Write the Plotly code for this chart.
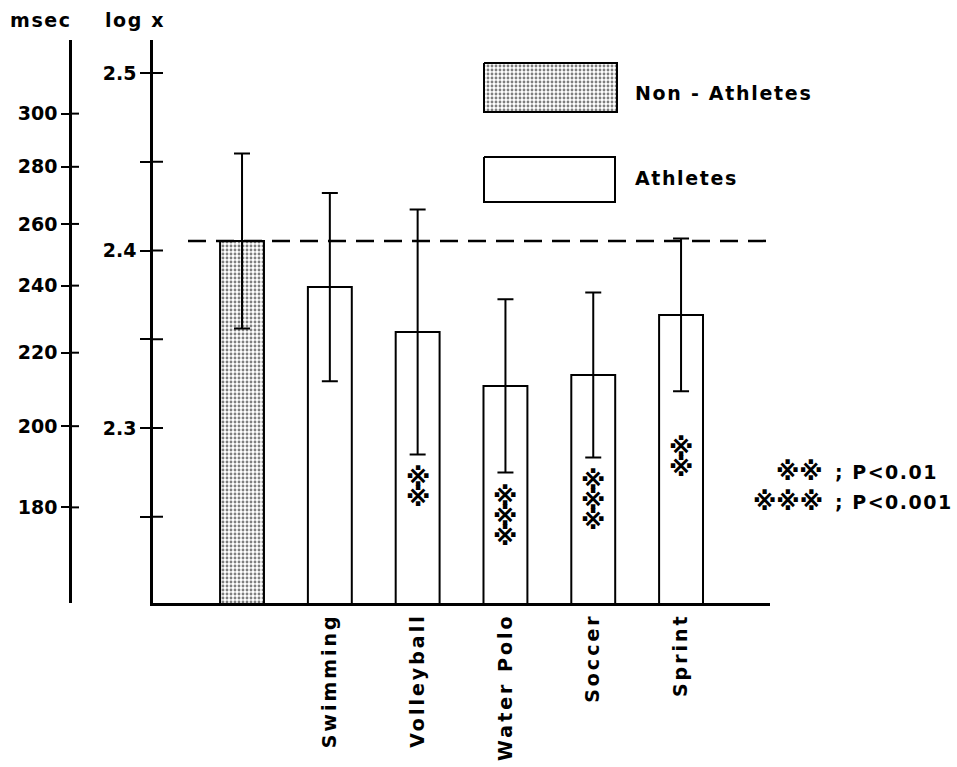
import numpy as np
import plotly.graph_objects as go

# Reaction time (log10 msec): group means and standard deviations
groups = ["Non-Athletes", "Swimming", "Volleyball", "Water Polo", "Soccer", "Sprint"]
log_mean = [2.4054, 2.3794, 2.3541, 2.3237, 2.3299, 2.3637]
log_sd = [0.0493, 0.0530, 0.0690, 0.0488, 0.0465, 0.0430]
# number of significance marks drawn inside each bar (2: P<0.01, 3: P<0.001)
sig_marks = [0, 0, 2, 3, 3, 2]

log_ticks = [2.25, 2.3, 2.35, 2.4, 2.45, 2.5]
log_tick_text = ["", "2.3", "", "2.4", "", "2.5"]
msec_ticks = [180, 200, 220, 240, 260, 280, 300]

FONT = "DejaVu Sans"
W, H = 957, 767
L, R, T, B = 70, 187, 40, 164
plot_w = W - L - R
plot_h = H - T - B
log_axis_pos = 83 / plot_w
y_range = [2.2014, 2.5186]


def spaced(s, px=1.6):
    return f"<span style='letter-spacing:{px}px'>{s}</span>"


def big(s, px=25):
    return f"<span style='font-size:{px}px'>{s}</span>"


stipple = dict(shape=".", fgcolor="black", bgcolor="white", size=4, solidity=0.4)
err_style = dict(type="data", visible=True, color="black", thickness=2, width=8)

fig = go.Figure()

# control group (stippled)
fig.add_trace(go.Bar(
    x=groups[:1], y=log_mean[:1], width=0.5,
    marker=dict(color="white", line=dict(color="black", width=2), pattern=stipple),
    error_y=dict(err_style, array=log_sd[:1]),
    showlegend=False, hoverinfo="skip",
))
# athlete groups (open bars)
fig.add_trace(go.Bar(
    x=groups[1:], y=log_mean[1:], width=0.5,
    marker=dict(color="white", line=dict(color="black", width=2)),
    error_y=dict(err_style, array=log_sd[1:]),
    showlegend=False, hoverinfo="skip",
))

# carrier trace for the msec axis
fig.add_trace(go.Scatter(x=[groups[0]], y=[np.log10(250)], yaxis="y2",
                         mode="markers", marker=dict(opacity=0),
                         showlegend=False, hoverinfo="skip"))


# legend boxes drawn in a pixel-unit overlay frame
def box(x0, y0, x1, y1, patterned):
    fig.add_trace(go.Scatter(
        x=[x0, x1, x1, x0, x0], y=[y0, y0, y1, y1, y0],
        xaxis="x3", yaxis="y3", mode="lines", fill="toself",
        fillcolor="white",
        fillpattern=stipple if patterned else None,
        line=dict(color="black", width=2),
        showlegend=False, hoverinfo="skip"))


box(484, 63, 617, 112, True)
box(484, 157, 615, 202, False)

tick_font = dict(family=FONT, size=19, color="black", weight="bold")

fig.update_layout(
    width=W, height=H,
    margin=dict(l=L, r=R, t=T, b=B, autoexpand=False),
    paper_bgcolor="white", plot_bgcolor="rgba(0,0,0,0)",
    font=dict(family=FONT, color="black", size=19),
    barmode="overlay",
    xaxis=dict(
        type="category", domain=[log_axis_pos, 1], range=[-1.014, 6.013],
        tickvals=groups[1:], ticktext=[spaced(g, 3) for g in groups[1:]],
        tickangle=-90, automargin=False,
        showline=True, linecolor="black", linewidth=2.5,
        ticks="", showgrid=False, zeroline=False,
        tickfont=dict(family=FONT, size=19, color="black", weight="bold"),
    ),
    yaxis=dict(
        range=y_range, anchor="x", automargin=False,
        tickvals=log_ticks, ticktext=log_tick_text,
        ticks="outside", ticklen=10, tickwidth=2, tickcolor="black",
        showline=True, linecolor="black", linewidth=2.5,
        showgrid=False, zeroline=False,
        tickfont=tick_font,
    ),
    yaxis2=dict(
        overlaying="y", anchor="free", position=0, side="left",
        range=y_range, automargin=False,
        tickvals=[float(np.log10(v)) for v in msec_ticks],
        ticktext=[str(v) for v in msec_ticks],
        ticks="outside", ticklen=8, tickwidth=2, tickcolor="black",
        showline=True, linecolor="black", linewidth=2.5,
        showgrid=False, zeroline=False,
        tickfont=tick_font,
    ),
    xaxis3=dict(domain=[0, 1], range=[L, W - R], anchor="y3",
                visible=False, fixedrange=True, automargin=False),
    yaxis3=dict(domain=[0, 1], range=[T + plot_h, T], anchor="x3",
                visible=False, fixedrange=True, automargin=False),
)

# inner halves of the crossing tick marks
shapes = []
for v in log_ticks:
    shapes.append(dict(type="line", xref="paper", xsizemode="pixel",
                       xanchor=log_axis_pos, x0=0, x1=10,
                       yref="y", y0=v, y1=v,
                       line=dict(color="black", width=2)))
for v in msec_ticks:
    lv = float(np.log10(v))
    shapes.append(dict(type="line", xref="paper", xsizemode="pixel",
                       xanchor=0, x0=0, x1=9,
                       yref="y", y0=lv, y1=lv,
                       line=dict(color="black", width=2)))
# reference level of the non-athlete mean
shapes.append(dict(type="line", xref="paper", x0=(188 - L) / plot_w, x1=1,
                   yref="y", y0=log_mean[0], y1=log_mean[0],
                   line=dict(color="black", width=2.5, dash="18px,10px")))
fig.update_layout(shapes=shapes)


def px_x(px):
    return (px - L) / plot_w


def px_y(py):
    return (T + plot_h - py) / plot_h


bold = dict(family=FONT, size=19, color="black", weight="bold")
mark_font = dict(family=FONT, size=24, color="black", weight="bold")
ann = [
    dict(text=spaced("msec"), x=px_x(41), y=px_y(20)),
    dict(text=spaced("log x"), x=px_x(135), y=px_y(20)),
    dict(text=spaced("Non - Athletes", 1.7), x=px_x(633), y=px_y(93), xanchor="left"),
    dict(text=spaced("Athletes"), x=px_x(633), y=px_y(178), xanchor="left"),
    dict(text="※※", x=px_x(825), y=px_y(472), xanchor="right", font=mark_font),
    dict(text=spaced("; P<0.01", 1.5), x=px_x(833), y=px_y(472), xanchor="left"),
    dict(text="※※※", x=px_x(825), y=px_y(502), xanchor="right", font=mark_font),
    dict(text=spaced("; P<0.001", 1.5), x=px_x(833), y=px_y(502), xanchor="left"),
]
annotations = []
for a in ann:
    d = dict(xref="paper", yref="paper", showarrow=False,
             xanchor="center", yanchor="middle", font=bold)
    d.update(a)
    annotations.append(d)

# significance marks stacked inside the bars (20 px line pitch, larger glyphs)
mark_centre = {2: 2.2662, 3: 2.2504, 4: 2.2594, 5: 2.2831}
for i, n in enumerate(sig_marks):
    if n == 0:
        continue
    annotations.append(dict(
        x=groups[i], y=mark_centre[i], xref="x", yref="y",
        text="<br>".join([big("※", 25)] * n), showarrow=False,
        xanchor="center", yanchor="middle",
        font=dict(family=FONT, size=15.4, color="black", weight="bold"),
    ))
fig.update_layout(annotations=annotations)

fig.write_html("out.html")
